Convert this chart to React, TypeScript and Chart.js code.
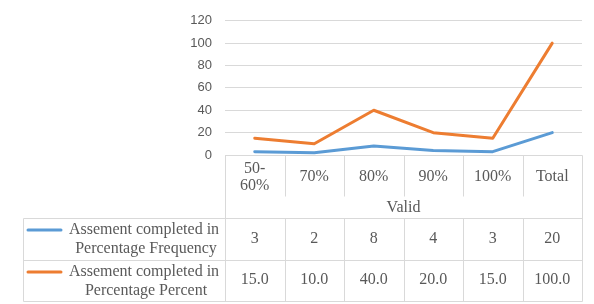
import React, { useEffect, useRef } from "react";
import { Chart, registerables } from "chart.js";

Chart.register(...registerables);

const categories = ["50-60%", "70%", "80%", "90%", "100%", "Total"];
const categoryLines = [["50-", "60%"], ["70%"], ["80%"], ["90%"], ["100%"], ["Total"]];
const groupLabel = "Valid";
const frequency = [3, 2, 8, 4, 3, 20];
const percent = [15, 10, 40, 20, 15, 100];
const frequencyText = ["3", "2", "8", "4", "3", "20"];
const percentText = ["15.0", "10.0", "40.0", "20.0", "15.0", "100.0"];
const seriesNames = [
  ["Assement completed in", "Percentage Frequency"],
  ["Assement completed in", "Percentage Percent"],
];
const seriesColors = ["#5B9BD5", "#ED7D31"];

const tablePlugin = {
  id: "dataTable",
  afterDraw(chart: any) {
    const ctx = chart.ctx;
    const xs = chart.scales.x;
    const area = chart.chartArea;
    const n = categories.length;
    const half = (xs.getPixelForValue(1) - xs.getPixelForValue(0)) / 2;
    const bounds: number[] = [];
    for (let i = 0; i < n; i++) bounds.push(xs.getPixelForValue(i) - half);
    bounds.push(xs.getPixelForValue(n - 1) + half);
    const left = area.left;
    const right = area.right;
    const top = area.bottom;
    const tickBottom = 196;
    const row1 = 218;
    const row2 = 260;
    const bottom = 301;
    const legendLeft = 23;

    ctx.save();
    ctx.strokeStyle = "#d9d9d9";
    ctx.lineWidth = 1;
    const line = (x1: number, y1: number, x2: number, y2: number) => {
      ctx.beginPath();
      ctx.moveTo(Math.round(x1) + 0.5, Math.round(y1) + 0.5);
      ctx.lineTo(Math.round(x2) + 0.5, Math.round(y2) + 0.5);
      ctx.stroke();
    };
    // axis line
    line(left, top, right, top);
    // category separators
    for (let i = 1; i < n; i++) line(bounds[i], top, bounds[i], tickBottom);
    line(left, top, left, bottom);
    line(right, top, right, bottom);
    // rows
    line(legendLeft, row1, right, row1);
    line(legendLeft, row2, right, row2);
    line(legendLeft, bottom, right, bottom);
    line(legendLeft, row1, legendLeft, bottom);
    for (let i = 1; i < n; i++) line(bounds[i], row1, bounds[i], bottom);

    ctx.fillStyle = "#595959";
    ctx.font = "16px 'Liberation Serif', 'Times New Roman', serif";
    ctx.textAlign = "center";
    ctx.textBaseline = "middle";
    for (let i = 0; i < n; i++) {
      const cx = xs.getPixelForValue(i);
      const ls = categoryLines[i];
      if (ls.length === 1) ctx.fillText(ls[0], cx, 177);
      else {
        ctx.fillText(ls[0], cx, 169);
        ctx.fillText(ls[1], cx, 186);
      }
      ctx.fillText(frequencyText[i], cx, 239);
      ctx.fillText(percentText[i], cx, 280);
    }
    ctx.fillText(groupLabel, (left + right) / 2, 208);

    // legend keys & names
    const rowTops = [row1, row2];
    for (let s = 0; s < 2; s++) {
      const y1 = rowTops[s] + 12;
      const y2 = rowTops[s] + 31;
      ctx.strokeStyle = seriesColors[s];
      ctx.lineWidth = 3;
      ctx.lineCap = "round";
      ctx.beginPath();
      ctx.moveTo(28, y1);
      ctx.lineTo(61, y1);
      ctx.stroke();
      ctx.fillText(seriesNames[s][0], 144, y1);
      ctx.fillText(seriesNames[s][1], 146, y2);
    }
    ctx.restore();
  },
};

export default function App() {
  const ref = useRef<HTMLCanvasElement>(null);
  useEffect(() => {
    if (!ref.current) return;
    const chart = new Chart(ref.current, {
      type: "line",
      data: {
        labels: categories,
        datasets: [
          {
            label: seriesNames[0].join(" "),
            data: frequency,
            borderColor: seriesColors[0],
            backgroundColor: seriesColors[0],
            borderWidth: 3,
            pointRadius: 0,
            tension: 0,
            borderJoinStyle: "round",
            borderCapStyle: "round",
          },
          {
            label: seriesNames[1].join(" "),
            data: percent,
            borderColor: seriesColors[1],
            backgroundColor: seriesColors[1],
            borderWidth: 3,
            pointRadius: 0,
            tension: 0,
            borderJoinStyle: "round",
            borderCapStyle: "round",
          },
        ],
      },
      options: {
        responsive: false,
        animation: false,
        layout: { padding: { left: 0, right: 12, top: 17, bottom: 149 } },
        plugins: { legend: { display: false }, tooltip: { enabled: false } },
        scales: {
          x: { type: "category", display: false, offset: true },
          y: {
            min: 0,
            max: 120,
            ticks: {
              stepSize: 20,
              padding: 13,
              color: "#595959",
              font: { family: "'Liberation Sans', Arial, sans-serif", size: 13 },
            },
            grid: { color: "#d9d9d9", drawTicks: false },
            border: { display: false },
            afterFit(scale: any) {
              scale.width = 225;
            },
          },
        },
      },
      plugins: [tablePlugin],
    } as any);
    return () => chart.destroy();
  }, []);
  return (
    <div style={{ position: "absolute", left: 0, top: 0, width: 594, height: 304, background: "#fff" }}>
      <canvas ref={ref} width={594} height={304} />
    </div>
  );
}
